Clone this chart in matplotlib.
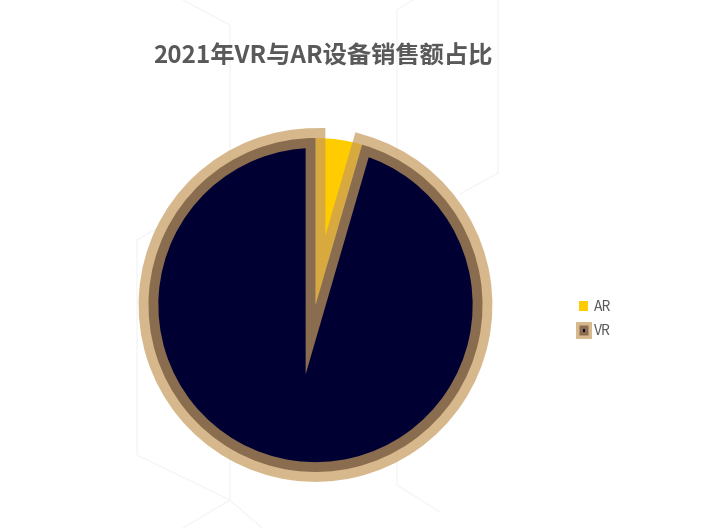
import matplotlib
matplotlib.use("Agg")
import matplotlib.pyplot as plt
from matplotlib.lines import Line2D

plt.rcParams['font.family'] = ['Noto Sans CJK SC', 'DejaVu Sans']

# data
labels = ['AR', 'VR']
shares = [4.5, 95.5]
face_colors = ['#FFCC00', '#000033']
title = '2021年VR与AR设备销售额占比'

W, H = 724, 528
edge_rgba = (198 / 255, 155 / 255, 91 / 255, 0.7)

fig = plt.figure(figsize=(W / 100, H / 100), dpi=100)
fig.patch.set_facecolor('white')

# faint honeycomb lines in the background (pixel coords, y from top)
hex_lines = [
    [(183, 0), (230, 25), (230, 500), (183, 528)],
    [(230, 500), (262, 528)],
    [(137, 240), (175, 218)],
    [(137, 240), (137, 455), (230, 500)],
    [(413, 0), (397, 10), (397, 485), (440, 512)],
    [(498, 0), (498, 173), (460, 194)],
]
for seg in hex_lines:
    xs = [p[0] / W for p in seg]
    ys = [1 - p[1] / H for p in seg]
    fig.add_artist(Line2D(xs, ys, color='#f4f4f4', lw=0.8, transform=fig.transFigure, zorder=0))

ax = fig.add_axes([0, 0, 1, 1])
ax.patch.set_alpha(0)

cx, cy, r = 315.5, H - 305, 167
wedges, _ = ax.pie(shares, colors=face_colors, startangle=90, counterclock=False,
                   center=(cx, cy), radius=r, frame=True)
wedges[0].set_edgecolor('none')
wedges[1].set_edgecolor(edge_rgba)
wedges[1].set_linewidth(14.2)
wedges[1].set_joinstyle('miter')

ax.set_xlim(0, W)
ax.set_ylim(0, H)
ax.set_aspect('equal')
ax.axis('off')

fig.text(323 / W, 1 - 57 / H, title, ha='center', va='center',
         fontsize=17.5, fontweight='bold', color='#595959')

leg = ax.legend(wedges, labels, loc='upper left',
                bbox_to_anchor=(579 / W, 1 - 300 / H), bbox_transform=fig.transFigure,
                frameon=False, fontsize=10, handlelength=0.65, handleheight=0.65,
                handletextpad=0.4, labelspacing=0.72, borderpad=0, borderaxespad=0)
for txt in leg.get_texts():
    txt.set_color('#595959')
hs = leg.legend_handles
hs[0].set_edgecolor('none')
hs[1].set_linewidth(5)

fig.savefig('out.png', dpi=100, facecolor='white')
